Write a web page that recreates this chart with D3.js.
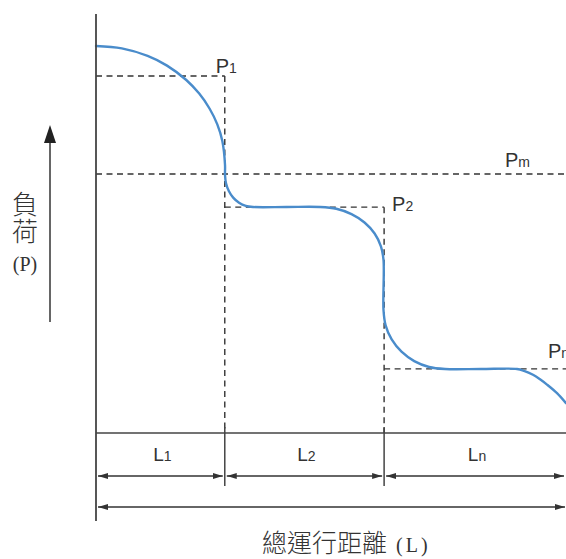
<!DOCTYPE html>
<html>
<head>
<meta charset="utf-8">
<script src="https://cdn.jsdelivr.net/npm/d3@7"></script>
<style>
  html, body { margin: 0; padding: 0; background: #fff; }
  svg { display: block; }
</style>
</head>
<body>
<svg id="chart" width="566" height="559"></svg>
<script>
// Running distance (0–100) and load (0–100) sampled along the load curve
const distance = [0, 5.49, 10.98, 15.11, 19.21, 21.96, 24.15, 25.81, 26.89, 27.45,
                  27.45, 27.66, 28.26, 29.19, 30.43, 31.87, 33.40, 40.53, 47.66,
                  51.13, 54.36, 57.13, 59.28, 60.62, 61.17, 61.17,
                  61.62, 62.91, 65.00, 67.71, 70.87, 74.26, 81.9, 89.57,
                  91.06, 92.98, 94.47, 95.96, 98.09, 100];
const load     = [92.36, 91.79, 90.00, 87.68, 84.25, 81.00, 77.45, 73.65, 69.62, 63.96,
                  61.58, 59.59, 57.76, 56.18, 54.96, 54.20, 53.94, 53.94, 53.94,
                  53.51, 52.24, 50.24, 47.61, 44.56, 41.29, 29.36,
                  25.70, 22.32, 19.40, 17.16, 15.75, 15.27, 15.27, 15.27,
                  14.84, 13.89, 12.82, 11.55, 9.50, 7.11];

// Load levels and the ends of each distance segment
const levelNames  = ["P1", "P2", "Pn"];
const levelValues = [85.2, 53.9, 15.3];
const levelStart  = [0, 27.4, 61.3];
const levelEnd    = [27.4, 61.3, 100];
const meanLoad    = 61.8;
const segmentNames = ["L1", "L2", "Ln"];
const segmentEnds  = [27.4, 61.3, 100];

const svg = d3.select("#chart");
const x = d3.scaleLinear().domain([0, 100]).range([96, 566]);
const y = d3.scaleLinear().domain([0, 100]).range([433, 14]);

const ink = "#333";
const sansFont = "'Liberation Sans', Arial, sans-serif";

// arrowhead markers
const defs = svg.append("defs");
defs.append("marker").attr("id", "arrEnd").attr("viewBox", "0 0 10 6")
  .attr("refX", 10).attr("refY", 3).attr("markerWidth", 10).attr("markerHeight", 6)
  .attr("markerUnits", "userSpaceOnUse").attr("orient", "auto")
  .append("path").attr("d", "M0,0L10,3L0,6Z").attr("fill", ink);
defs.append("marker").attr("id", "arrStart").attr("viewBox", "0 0 10 6")
  .attr("refX", 0).attr("refY", 3).attr("markerWidth", 10).attr("markerHeight", 6)
  .attr("markerUnits", "userSpaceOnUse").attr("orient", "auto")
  .append("path").attr("d", "M10,0L0,3L10,6Z").attr("fill", ink);

// dashed guide lines
const dash = "6,4.5";
const guides = svg.append("g").attr("stroke", ink).attr("stroke-width", 1.4)
  .attr("stroke-dasharray", dash).attr("fill", "none");
levelValues.forEach((v, i) => {
  guides.append("line")
    .attr("x1", x(levelStart[i])).attr("x2", x(levelEnd[i]))
    .attr("y1", y(v)).attr("y2", y(v));
  if (i < 2) {
    guides.append("line")
      .attr("x1", x(levelEnd[i])).attr("x2", x(levelEnd[i]))
      .attr("y1", y(v)).attr("y2", y(0));
  }
});
guides.append("line")
  .attr("x1", x(0)).attr("x2", x(100))
  .attr("y1", y(meanLoad)).attr("y2", y(meanLoad));

// load curve
const pts = distance.map((d, i) => [d, load[i]]);
svg.append("path")
  .datum(pts)
  .attr("fill", "none")
  .attr("stroke", "#4a8ccb")
  .attr("stroke-width", 2.4)
  .attr("stroke-linecap", "round")
  .attr("d", d3.line().x(d => x(d[0])).y(d => y(d[1])).curve(d3.curveCatmullRom.alpha(0.5)));

// axes
svg.append("line").attr("x1", x(0)).attr("x2", x(0)).attr("y1", 14).attr("y2", 521)
  .attr("stroke", "#444").attr("stroke-width", 1.8);
svg.append("line").attr("x1", x(0)).attr("x2", x(100)).attr("y1", y(0)).attr("y2", y(0))
  .attr("stroke", "#444").attr("stroke-width", 1.5);

// segment dividers and dimension arrows
segmentEnds.slice(0, 2).forEach(e => {
  svg.append("line").attr("x1", x(e)).attr("x2", x(e)).attr("y1", 427).attr("y2", 486)
    .attr("stroke", "#444").attr("stroke-width", 1.5);
});
const segStarts = [0].concat(segmentEnds.slice(0, 2));
segmentEnds.forEach((e, i) => {
  svg.append("line")
    .attr("x1", x(segStarts[i]) + 2).attr("x2", x(e) - 2)
    .attr("y1", 476).attr("y2", 476)
    .attr("stroke", ink).attr("stroke-width", 1.3)
    .attr("marker-start", "url(#arrStart)").attr("marker-end", "url(#arrEnd)");
  const lab = svg.append("text")
    .attr("x", (x(segStarts[i]) + x(e)) / 2 + 2).attr("y", 461)
    .attr("text-anchor", "middle").attr("fill", ink)
    .attr("font-family", sansFont).attr("font-size", 19);
  lab.append("tspan").text(segmentNames[i][0]);
  lab.append("tspan").attr("font-size", 14).text(segmentNames[i].slice(1));
});
svg.append("line")
  .attr("x1", x(0) + 2).attr("x2", x(100) - 1)
  .attr("y1", 507).attr("y2", 507)
  .attr("stroke", ink).attr("stroke-width", 1.3)
  .attr("marker-start", "url(#arrStart)").attr("marker-end", "url(#arrEnd)");

// level labels
function pLabel(px, py, name) {
  const t = svg.append("text").attr("x", px).attr("y", py).attr("fill", ink)
    .attr("font-family", sansFont).attr("font-size", 20);
  t.append("tspan").text(name[0]);
  t.append("tspan").attr("font-size", 14).text(name.slice(1));
}
pLabel(x(levelEnd[0]) - 9, y(levelValues[0]) - 3, levelNames[0]);
pLabel(x(levelEnd[1]) + 8, y(levelValues[1]) + 4, levelNames[1]);
pLabel(548, y(levelValues[2]) - 11, levelNames[2]);
pLabel(505, y(meanLoad) - 7, "Pm");

// vertical load arrow
svg.append("line").attr("x1", 50).attr("x2", 50).attr("y1", 322).attr("y2", 142)
  .attr("stroke", ink).attr("stroke-width", 1.5);
svg.append("path").attr("d", "M50,125L56,143L44,143Z").attr("fill", "#222");

// axis titles
const cjk = "'Noto Sans CJK TC', 'Noto Sans CJK SC', sans-serif";
svg.append("text").attr("x", 25).attr("y", 191)
  .attr("writing-mode", "vertical-rl")
  .attr("font-family", cjk).attr("font-weight", 300).attr("font-size", 26)
  .attr("letter-spacing", 1).attr("fill", ink).text("負荷");
svg.append("text").attr("x", 25).attr("y", 271).attr("text-anchor", "middle")
  .attr("font-family", "'Liberation Serif', serif").attr("font-size", 20).attr("fill", ink).text("(P)");

const xt = svg.append("text").attr("x", 262).attr("y", 552)
  .attr("font-family", cjk).attr("font-weight", 300).attr("font-size", 25).attr("fill", ink);
xt.append("tspan").text("總運行距離");
xt.append("tspan").attr("dx", 9).attr("font-family", "'Liberation Serif', serif")
  .attr("font-size", 20).attr("letter-spacing", 3).text("(L)");
</script>
</body>
</html>
